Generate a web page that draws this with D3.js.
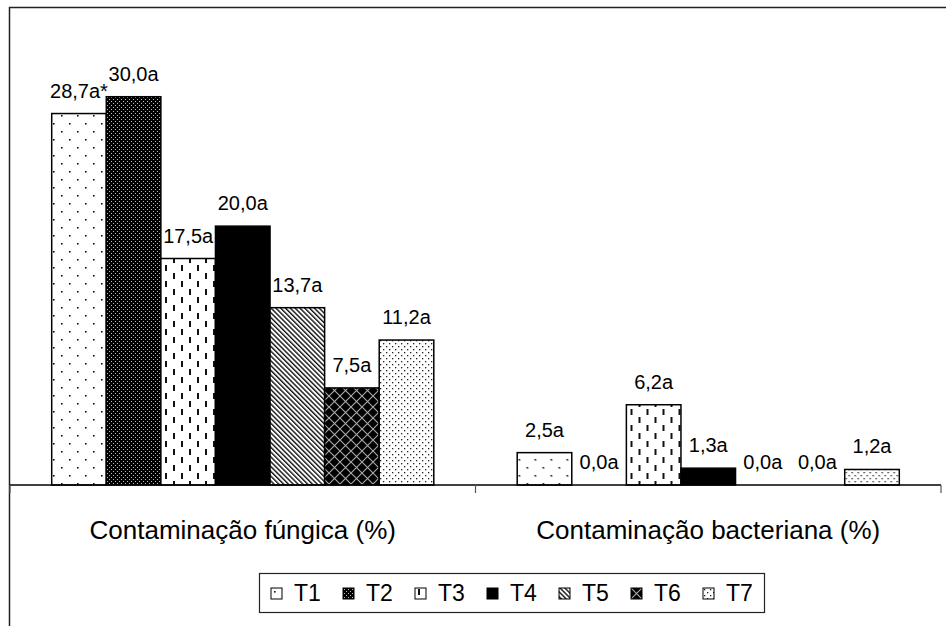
<!DOCTYPE html>
<html>
<head>
<meta charset="utf-8">
<script src="https://cdn.jsdelivr.net/npm/d3@7"></script>
<style>
  body { margin: 0; background: #fff; }
  text { font-family: "Liberation Sans", Arial, sans-serif; fill: #000; }
</style>
</head>
<body>
<svg id="chart" width="946" height="626"></svg>
<script>
// data
var categories = ['Contaminação fúngica (%)', 'Contaminação bacteriana (%)']
var series = ['T1', 'T2', 'T3', 'T4', 'T5', 'T6', 'T7']
var fungal = [28.7, 30.0, 17.5, 20.0, 13.7, 7.5, 11.2]
var bacterial = [2.5, 0.0, 6.2, 1.3, 0.0, 0.0, 1.2]
var fungalLabels = ['28,7a*', '30,0a', '17,5a', '20,0a', '13,7a', '7,5a', '11,2a']
var bacterialLabels = ['2,5a', '0,0a', '6,2a', '1,3a', '0,0a', '0,0a', '1,2a']

var values = [fungal, bacterial]
var labels = [fungalLabels, bacterialLabels]

var svg = d3.select('#chart')
var defs = svg.append('defs')

// fill patterns, one per treatment
function pattern(id, w, h, bg, draw, transform){
  var p = defs.append('pattern')
    .attr('id', id)
    .attr('patternUnits', 'userSpaceOnUse')
    .attr('width', w).attr('height', h)
  if (transform) p.attr('patternTransform', transform)
  p.append('rect').attr('width', w).attr('height', h).attr('fill', bg)
  draw(p)
}

pattern('p-T1', 16, 16, '#fff', function(p){
  p.append('rect').attr('x', 3).attr('y', 3).attr('width', 1.6).attr('height', 1.6).attr('fill', '#111')
  p.append('rect').attr('x', 11).attr('y', 11).attr('width', 1.6).attr('height', 1.6).attr('fill', '#111')
})
pattern('p-T2', 4, 4, '#000', function(p){
  p.append('rect').attr('x', 1).attr('y', 1).attr('width', 1).attr('height', 1).attr('fill', '#bbb')
  p.append('rect').attr('x', 3).attr('y', 3).attr('width', 1).attr('height', 1).attr('fill', '#bbb')
})
pattern('p-T3', 16, 16, '#fff', function(p){
  p.append('rect').attr('x', 3).attr('y', 1).attr('width', 2).attr('height', 6).attr('fill', '#111')
  p.append('rect').attr('x', 11).attr('y', 9).attr('width', 2).attr('height', 6).attr('fill', '#111')
})
pattern('p-T4', 4, 4, '#000', function(){})
pattern('p-T5', 3.4, 3.4, '#fff', function(p){
  p.append('rect').attr('x', 0).attr('y', 0).attr('width', 1.4).attr('height', 3.4).attr('fill', '#111')
}, 'rotate(-45)')
pattern('p-T6', 11, 11, '#000', function(p){
  p.append('path').attr('d', 'M0,0L11,11M11,0L0,11').attr('stroke', '#aaa').attr('stroke-width', 1.1)
})
pattern('p-T7', 6, 6, '#fff', function(p){
  p.append('rect').attr('x', 1).attr('y', 1).attr('width', 1.3).attr('height', 1.3).attr('fill', '#222')
  p.append('rect').attr('x', 4).attr('y', 4).attr('width', 1.3).attr('height', 1.3).attr('fill', '#222')
})

// outer frame, runs off the right and bottom of the picture
svg.append('rect')
  .attr('x', 9.5).attr('y', 7.5).attr('width', 1000).attr('height', 700)
  .attr('fill', 'none').attr('stroke', '#222').attr('stroke-width', 1.5)

var x0 = d3.scaleBand().domain(categories).range([10, 941]).padding(0)
var x1 = d3.scaleBand().domain(series).range([0, x0.bandwidth()])
  .paddingInner(0).paddingOuter(0.764)
var y = d3.scaleLinear().domain([0, 35]).range([485, 32])

var groups = svg.selectAll('g.group').data(categories).join('g')
  .attr('class', 'group')
  .attr('transform', function(d){ return 'translate(' + x0(d) + ',0)' })

groups.each(function(cat, ci){
  var g = d3.select(this)
  var rows = series.map(function(s, i){
    return {s: s, v: values[ci][i], label: labels[ci][i]}
  })

  g.selectAll('rect').data(rows.filter(function(d){ return d.v > 0 })).join('rect')
    .attr('x', function(d){ return x1(d.s) })
    .attr('y', function(d){ return y(d.v) })
    .attr('width', x1.bandwidth())
    .attr('height', function(d){ return y(0) - y(d.v) })
    .attr('fill', function(d){ return 'url(#p-' + d.s + ')' })
    .attr('stroke', '#000').attr('stroke-width', 1.5)

  g.selectAll('text.val').data(rows).join('text')
    .attr('class', 'val')
    .attr('x', function(d){ return x1(d.s) + x1.bandwidth() / 2 })
    .attr('y', function(d){ return y(d.v) - 16 })
    .attr('text-anchor', 'middle')
    .attr('font-size', 20)
    .text(function(d){ return d.label })
})

// category axis
var xAxis = svg.append('g')
xAxis.append('line')
  .attr('x1', x0.range()[0]).attr('x2', x0.range()[1])
  .attr('y1', y(0)).attr('y2', y(0))
  .attr('stroke', '#000').attr('stroke-width', 1.5)

var tickXs = categories.map(function(c){ return x0(c) }).concat([x0.range()[1]])
xAxis.selectAll('line.tick').data(tickXs).join('line')
  .attr('class', 'tick')
  .attr('x1', function(d){ return d }).attr('x2', function(d){ return d })
  .attr('y1', y(0)).attr('y2', y(0) + 8)
  .attr('stroke', '#555').attr('stroke-width', 1.2)

xAxis.selectAll('text').data(categories).join('text')
  .attr('x', function(d){ return x0(d) + x0.bandwidth() / 2 })
  .attr('y', 539)
  .attr('text-anchor', 'middle')
  .attr('font-size', 26)
  .text(function(d){ return d })

// legend
var legend = svg.append('g')
legend.append('rect')
  .attr('x', 259.5).attr('y', 573.5).attr('width', 505).attr('height', 39)
  .attr('fill', '#fff').attr('stroke', '#222').attr('stroke-width', 1.2)

var lx = d3.scalePoint().domain(series).range([271, 703])
var items = legend.selectAll('g.item').data(series).join('g')
  .attr('class', 'item')
  .attr('transform', function(d){ return 'translate(' + lx(d) + ',588)' })
items.append('rect')
  .attr('width', 11).attr('height', 11)
  .attr('fill', function(d){ return 'url(#p-' + d + ')' })
  .attr('stroke', '#000').attr('stroke-width', 1)
items.append('text')
  .attr('x', 23).attr('y', 13)
  .attr('font-size', 23)
  .text(function(d){ return d })
</script>
</body>
</html>
